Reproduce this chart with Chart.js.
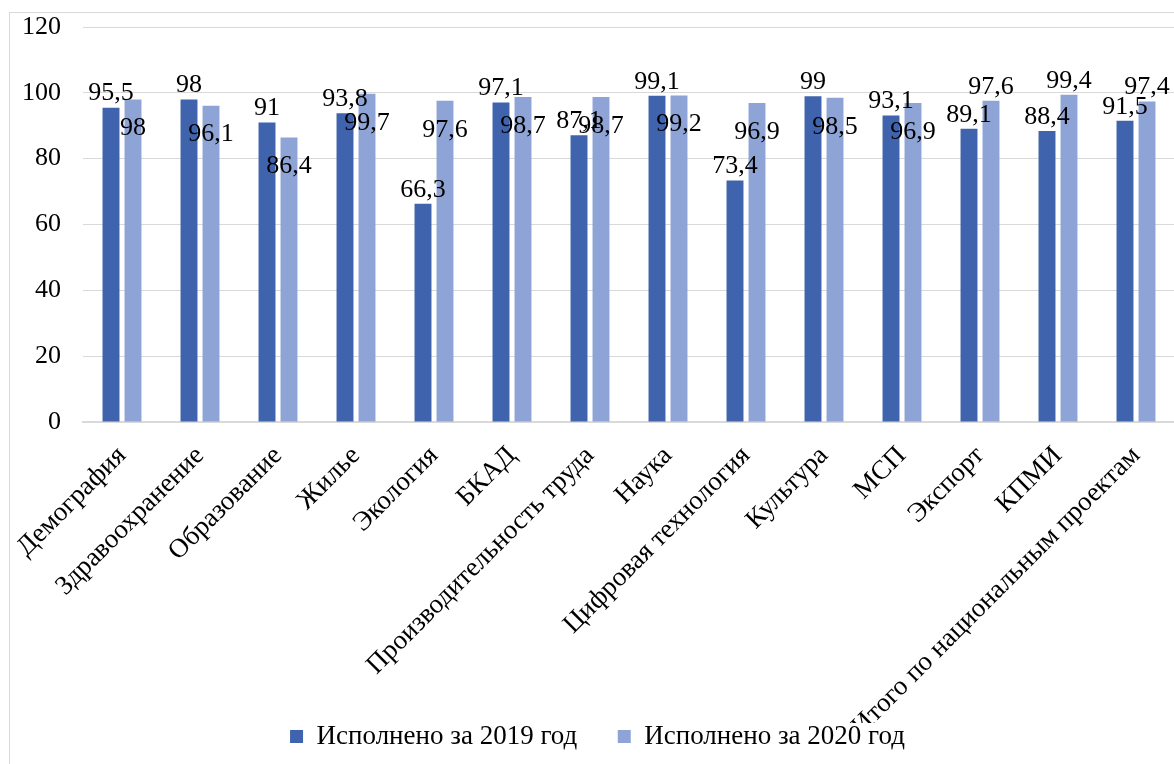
<!DOCTYPE html>
<html lang="ru">
<head>
<meta charset="utf-8">
<title>Исполнение национальных проектов</title>
<script src="https://cdn.jsdelivr.net/npm/chart.js@4"></script>
<style>
  html, body { margin: 0; padding: 0; background: #fff; overflow: hidden; width: 1174px; height: 764px; }
  .frame { position: absolute; left: 9px; top: 12px; width: 1300px; height: 900px; border: 1px solid #d9d9d9; }
  #chart { position: absolute; left: 0; top: 0; }
</style>
</head>
<body>
<div class="frame"></div>
<canvas id="chart" width="1175" height="764"></canvas>
<script>
// категории и значения (%)
const categories = ['Демография', 'Здравоохранение', 'Образование', 'Жилье', 'Экология', 'БКАД',
  'Производительность труда', 'Наука', 'Цифровая технология', 'Культура', 'МСП', 'Экспорт', 'КПМИ',
  'Итого по национальным проектам'];
const done2019 = [95.5, 98, 91, 93.8, 66.3, 97.1, 87.1, 99.1, 73.4, 99, 93.1, 89.1, 88.4, 91.5];
const done2020 = [98, 96.1, 86.4, 99.7, 97.6, 98.7, 98.7, 99.2, 96.9, 98.5, 96.9, 97.6, 99.4, 97.4];
const yTicks = [0, 20, 40, 60, 80, 100, 120];

const FONT = "'Liberation Serif', 'DejaVu Serif', serif";

// подписи значений: 2019 — над столбцом, 2020 — у вершины внутри (кроме последних трёх)
const valueLabels = {
  id: 'valueLabels',
  afterDatasetsDraw(chart) {
    const ctx = chart.ctx;
    ctx.save();
    ctx.font = '26px ' + FONT;
    ctx.fillStyle = '#000';
    ctx.textAlign = 'center';
    ctx.textBaseline = 'middle';
    chart.data.datasets.forEach((ds, di) => {
      chart.getDatasetMeta(di).data.forEach((bar, i) => {
        const inside = di === 1 && i < 11;
        const y = inside ? bar.y + 29 : bar.y - 14;
        ctx.fillText(String(ds.data[i]).replace('.', ','), bar.x, y);
      });
    });
    ctx.restore();
  }
};

function drawChart() {
  const ctx = document.getElementById('chart').getContext('2d');
  new Chart(ctx, {
    type: 'bar',
    data: {
      labels: categories,
      datasets: [
        { label: 'Исполнено за 2019 год', data: done2019, backgroundColor: '#3f63ad' },
        { label: 'Исполнено за 2020 год', data: done2020, backgroundColor: '#8fa4d6' }
      ]
    },
    options: {
      responsive: false,
      devicePixelRatio: 1,
      animation: false,
      categoryPercentage: 0.564,
      barPercentage: 0.77,
      layout: { padding: { top: 27, left: 20, right: 0, bottom: 4 } },
      plugins: {
        tooltip: { enabled: false },
        legend: {
          position: 'bottom',
          labels: {
            font: { family: FONT, size: 27 },
            color: '#000',
            boxWidth: 13,
            boxHeight: 13,
            padding: 0,
            // промежуток между элементами легенды
            generateLabels: chart => {
              const items = Chart.defaults.plugins.legend.labels.generateLabels(chart);
              items[0].text += '\u00a0'.repeat(6);
              return items;
            }
          }
        }
      },
      scales: {
        x: {
          grid: { display: false },
          border: { display: true, color: '#d9d9d9', width: 2 },
          ticks: {
            font: { family: FONT, size: 27 },
            color: '#000',
            minRotation: 45,
            maxRotation: 45,
            autoSkip: false,
            padding: 10
          },
          afterFit: scale => {
            scale.height = 301;
            scale.paddingLeft = 0;
            scale.paddingRight = 0;
          }
        },
        y: {
          min: 0,
          max: 120,
          border: { display: false },
          grid: { color: '#d9d9d9', lineWidth: 1, drawTicks: false },
          afterBuildTicks: scale => { scale.ticks = yTicks.map(v => ({ value: v })); },
          ticks: {
            font: { family: FONT, size: 26 },
            color: '#000',
            padding: 22
          },
          afterFit: scale => {
            scale.width = 63;
            scale.paddingTop = 0;
            scale.paddingBottom = 0;
          }
        }
      }
    },
    plugins: [valueLabels]
  });
}

document.fonts.load("26px 'Liberation Serif'").then(drawChart, drawChart);
</script>
</body>
</html>
